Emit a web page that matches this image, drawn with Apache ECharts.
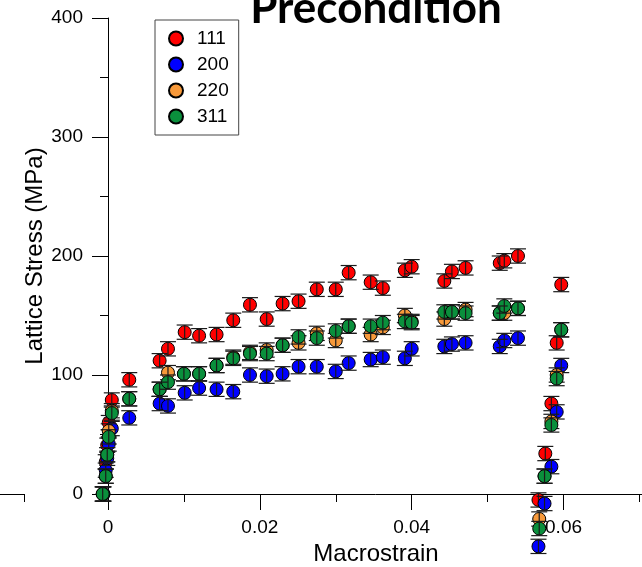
<!DOCTYPE html>
<html>
<head>
<meta charset="utf-8">
<script src="https://cdn.jsdelivr.net/npm/echarts@6/dist/echarts.min.js"></script>
<style>
  html, body { margin: 0; padding: 0; background: #fff; }
  #chart { width: 642px; height: 567px; }
</style>
</head>
<body>
<div id="chart"></div>
<script>
// Lattice strain families: macrostrain (x) vs lattice stress in MPa (y)
const seriesNames = ['111', '200', '220', '311'];
const seriesColors = ['#ff0000', '#0000ff', '#f7993a', '#0a8f3c'];

const x111 = [-0.0006, -0.0003, -0.0001, 0.0001, 0.0005, 0.0028, 0.0068, 0.0079, 0.0101, 0.0120, 0.0143, 0.0165, 0.0187, 0.0209, 0.0230, 0.0251, 0.0275, 0.0300, 0.0317, 0.0346, 0.0362, 0.0391, 0.0400, 0.0443, 0.0453, 0.0471, 0.0516, 0.0522, 0.0540, 0.0597, 0.0591, 0.0584, 0.0576, 0.0567];
const y111 = [0, 27, 41, 60, 79, 96, 112, 122, 136, 133, 134, 146, 159, 147, 160, 162, 172, 172, 186, 178, 173, 188, 191, 179, 187, 190, 194, 196, 200, 176, 127, 76, 34, -5];

const x200 = [-0.0006, -0.0003, -0.0001, 0.0001, 0.0005, 0.0028, 0.0068, 0.0079, 0.0101, 0.0120, 0.0143, 0.0165, 0.0187, 0.0209, 0.0230, 0.0251, 0.0275, 0.0300, 0.0317, 0.0346, 0.0362, 0.0391, 0.0400, 0.0443, 0.0453, 0.0471, 0.0516, 0.0522, 0.0540, 0.0597, 0.0591, 0.0584, 0.0575, 0.0567];
const y200 = [0, 20, 30, 42, 55, 64, 76, 74, 85, 89, 88, 86, 100, 99, 101, 107, 107, 103, 110, 113, 115, 114, 122, 124, 126, 127, 124, 129, 131, 108, 69, 23, -8, -44];

const x220 = [-0.0007, -0.0003, -0.0001, 0.0001, 0.0005, 0.0028, 0.0068, 0.0079, 0.0100, 0.0120, 0.0143, 0.0165, 0.0187, 0.0209, 0.0230, 0.0251, 0.0275, 0.0300, 0.0317, 0.0346, 0.0362, 0.0391, 0.0400, 0.0443, 0.0453, 0.0471, 0.0516, 0.0522, 0.0540, 0.0597, 0.0591, 0.0584, 0.0575, 0.0568];
const y220 = [0, 15, 33, 53, 70, 80, 88, 102, 101, 101, 108, 115, 119, 121, 125, 127, 135, 129, 141, 134, 140, 150, 145, 147, 153, 155, 152, 152, 156, 138, 100, 61, 15, -21];

const x311 = [-0.0007, -0.0003, -0.0001, 0.0001, 0.0005, 0.0028, 0.0068, 0.0079, 0.0100, 0.0120, 0.0143, 0.0165, 0.0187, 0.0209, 0.0230, 0.0251, 0.0275, 0.0300, 0.0317, 0.0346, 0.0362, 0.0391, 0.0400, 0.0443, 0.0453, 0.0471, 0.0516, 0.0522, 0.0540, 0.0597, 0.0591, 0.0584, 0.0575, 0.0568];
const y311 = [0, 15, 33, 48, 68, 80, 88, 94, 101, 101, 108, 114, 118, 118, 125, 132, 131, 137, 141, 141, 144, 145, 144, 153, 153, 152, 152, 158, 156, 138, 97, 58, 15, -29];

// half-height of each error bar, MPa
const errorHalf = 6;

const xTicks = { min: 0, max: 0.0706, major: 0.02, minor: 0.01 };
const yTicks = { min: 0, max: 400, major: 100 };

const allX = [x111, x200, x220, x311];
const allY = [y111, y200, y220, y311];

const FONT = "'Liberation Sans', Arial, sans-serif";

function renderErrorBar(params, api) {
  const x = api.value(0);
  const y = api.value(1);
  const top = api.coord([x, y + errorHalf]);
  const bot = api.coord([x, y - errorHalf]);
  const hw = 8;
  const style = { stroke: '#1a1a1a', lineWidth: 1.2 };
  return {
    type: 'group',
    children: [
      { type: 'line', shape: { x1: top[0], y1: top[1], x2: bot[0], y2: bot[1] }, style },
      { type: 'line', shape: { x1: top[0] - hw, y1: top[1], x2: top[0] + hw, y2: top[1] }, style },
      { type: 'line', shape: { x1: bot[0] - hw, y1: bot[1], x2: bot[0] + hw, y2: bot[1] }, style }
    ]
  };
}

const series = [];
seriesNames.forEach((name, i) => {
  const pts = allX[i].map((x, k) => [x, allY[i][k]]);
  series.push({
    name,
    type: 'scatter',
    xAxisIndex: 0,
    yAxisIndex: 0,
    data: pts,
    symbol: 'circle',
    symbolSize: 13,
    clip: false,
    z: 2 + i * 2,
    itemStyle: { color: seriesColors[i], borderColor: '#000', borderWidth: 1, opacity: 1 },
    emphasis: { disabled: true }
  });
  series.push({
    type: 'custom',
    xAxisIndex: 0,
    yAxisIndex: 0,
    data: pts,
    encode: { x: 0, y: 1 },
    renderItem: renderErrorBar,
    clip: false,
    silent: true,
    z: 3 + i * 2
  });
});

const axisLineStyle = { color: '#000', width: 1 };

const option = {
  animation: false,
  backgroundColor: '#fff',
  textStyle: { fontFamily: FONT },
  title: {
    text: 'Precondition',
    left: 371,
    top: -18,
    textAlign: 'center',
    textStyle: { fontFamily: 'Lato, sans-serif', fontWeight: 'bold', fontSize: 44, color: '#000' }
  },
  legend: {
    data: seriesNames,
    orient: 'vertical',
    left: 155,
    top: 20,
    icon: 'circle',
    itemWidth: 14,
    itemHeight: 14,
    itemGap: 7,
    padding: [9, 10, 9, 13],
    borderColor: '#444',
    borderWidth: 1,
    textStyle: { fontFamily: FONT, fontSize: 19, color: '#000', padding: [0, 0, 0, 9] }
  },
  grid: [
    { left: 108, top: 18, right: -2, bottom: 73, outerBoundsMode: 'none', containLabel: false },
    { left: -10, width: 34, top: 18, bottom: 73, outerBoundsMode: 'none', containLabel: false }
  ],
  xAxis: [
    {
      gridIndex: 0,
      type: 'value',
      position: 'bottom',
      min: xTicks.min,
      max: xTicks.max,
      interval: xTicks.major,
      axisLine: { show: true, onZero: false, lineStyle: axisLineStyle },
      axisTick: { show: true, inside: false, length: 16, lineStyle: axisLineStyle },
      axisLabel: { show: true, showMaxLabel: false, margin: 24, fontSize: 19, color: '#000', fontFamily: FONT },
      splitLine: { show: false },
      name: 'Macrostrain',
      nameLocation: 'middle',
      nameGap: 47,
      nameTextStyle: { fontSize: 24, color: '#000', fontFamily: FONT }
    },
    {
      gridIndex: 0,
      type: 'value',
      position: 'bottom',
      min: xTicks.min,
      max: xTicks.max,
      interval: xTicks.minor,
      axisLine: { show: false, onZero: false },
      axisTick: { show: true, inside: false, length: 8, lineStyle: axisLineStyle },
      axisLabel: { show: false },
      splitLine: { show: false }
    },
    {
      gridIndex: 1,
      type: 'value',
      position: 'bottom',
      min: 0,
      max: 1,
      interval: 1,
      axisLine: { show: true, onZero: false, lineStyle: axisLineStyle },
      axisTick: { show: true, inside: false, length: 8, lineStyle: axisLineStyle },
      axisLabel: { show: false },
      splitLine: { show: false }
    }
  ],
  yAxis: [
    {
      gridIndex: 0,
      type: 'value',
      min: yTicks.min,
      max: yTicks.max,
      interval: yTicks.major,
      axisLine: { show: true, onZero: false, lineStyle: axisLineStyle },
      axisTick: { show: true, inside: false, length: 16, lineStyle: axisLineStyle },
      minorTick: { show: true, splitNumber: 2, length: 8, lineStyle: axisLineStyle },
      axisLabel: { show: true, margin: 25, fontSize: 19, color: '#000', fontFamily: FONT },
      splitLine: { show: false },
      minorSplitLine: { show: false },
      name: 'Lattice Stress (MPa)',
      nameLocation: 'middle',
      nameGap: 61,
      nameMoveOverlap: false,
      nameRotate: 90,
      nameTextStyle: { fontSize: 24, color: '#000', fontFamily: FONT }
    },
    {
      gridIndex: 1,
      type: 'value',
      show: false,
      min: 0,
      max: 1
    }
  ],
  series
};

const chart = echarts.init(document.getElementById('chart'), null, { renderer: 'canvas' });
chart.setOption(option);
</script>
</body>
</html>
